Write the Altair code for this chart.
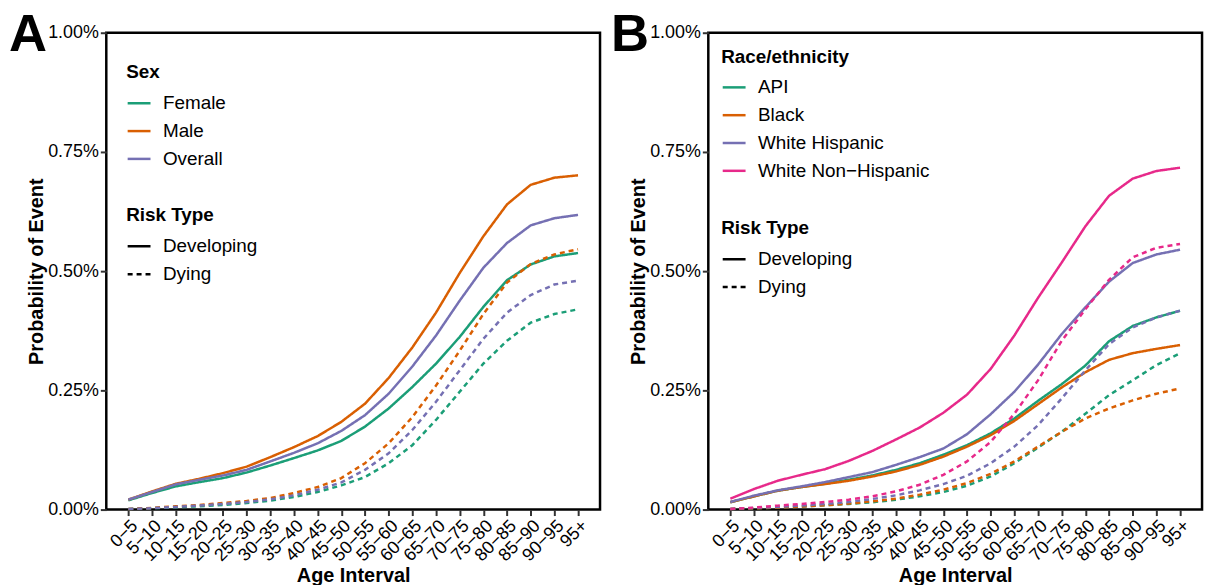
import altair as alt
import pandas as pd

# Age intervals shared by both panels
ages = ["0−5", "5−10", "10−15", "15−20", "20−25", "25−30", "30−35", "35−40",
        "40−45", "45−50", "50−55", "55−60", "60−65", "65−70", "70−75", "75−80",
        "80−85", "85−90", "90−95", "95+"]
risk_types = ["Developing", "Dying"]

# Panel A: probability (%) by sex
sex_groups = ["Female", "Male", "Overall"]
female_dev = [0.0194, 0.0347, 0.0486, 0.0576, 0.066, 0.0778, 0.0924, 0.108, 0.124, 0.144,
              0.174, 0.212, 0.257, 0.306, 0.362, 0.425, 0.481, 0.514, 0.531, 0.538]
male_dev = [0.0208, 0.038, 0.054, 0.0646, 0.0764, 0.090, 0.110, 0.131, 0.154, 0.184,
            0.222, 0.276, 0.340, 0.413, 0.496, 0.573, 0.640, 0.681, 0.696, 0.701]
overall_dev = [0.0208, 0.0368, 0.0528, 0.0625, 0.0715, 0.0833, 0.101, 0.119, 0.139, 0.165,
               0.198, 0.243, 0.300, 0.365, 0.438, 0.507, 0.559, 0.596, 0.611, 0.618]
female_die = [0.0014, 0.0028, 0.0049, 0.0069, 0.0097, 0.0139, 0.0188, 0.0264, 0.0368, 0.0507,
              0.0681, 0.0972, 0.135, 0.188, 0.247, 0.306, 0.354, 0.392, 0.410, 0.420]
male_die = [0.0014, 0.0035, 0.0069, 0.0097, 0.0139, 0.0181, 0.0243, 0.0347, 0.0472, 0.066,
            0.0972, 0.139, 0.194, 0.260, 0.333, 0.410, 0.476, 0.515, 0.535, 0.546]
overall_die = [0.0014, 0.0028, 0.0056, 0.0083, 0.0118, 0.016, 0.0215, 0.0299, 0.0417, 0.0569,
               0.0833, 0.118, 0.167, 0.226, 0.292, 0.358, 0.413, 0.450, 0.472, 0.480]

# Panel B: probability (%) by race/ethnicity
race_groups = ["API", "Black", "White Hispanic", "White Non−Hispanic"]
api_dev = [0.0153, 0.0278, 0.0396, 0.0472, 0.0542, 0.0625, 0.0715, 0.0833, 0.0972, 0.115,
           0.135, 0.160, 0.191, 0.228, 0.263, 0.302, 0.353, 0.385, 0.403, 0.417]
black_dev = [0.0153, 0.0278, 0.0396, 0.0472, 0.0535, 0.0604, 0.0694, 0.0799, 0.0938, 0.111,
             0.132, 0.156, 0.186, 0.221, 0.256, 0.288, 0.314, 0.328, 0.337, 0.345]
whisp_dev = [0.016, 0.0292, 0.0403, 0.0486, 0.0576, 0.0681, 0.0785, 0.0938, 0.110, 0.128,
             0.158, 0.200, 0.247, 0.304, 0.368, 0.424, 0.478, 0.517, 0.535, 0.545]
wnh_dev = [0.0229, 0.0431, 0.0604, 0.0729, 0.0847, 0.102, 0.123, 0.147, 0.172, 0.203,
           0.241, 0.295, 0.365, 0.444, 0.518, 0.594, 0.658, 0.694, 0.710, 0.717]
api_die = [0.0014, 0.0028, 0.0042, 0.0063, 0.009, 0.0118, 0.0153, 0.0208, 0.0278, 0.0368,
           0.050, 0.0694, 0.0972, 0.130, 0.163, 0.201, 0.240, 0.271, 0.303, 0.328]
black_die = [0.0014, 0.0028, 0.0042, 0.0063, 0.009, 0.0125, 0.0174, 0.0229, 0.0313, 0.0417,
             0.0556, 0.075, 0.101, 0.132, 0.163, 0.191, 0.212, 0.229, 0.243, 0.254]
whisp_die = [0.0014, 0.0035, 0.0056, 0.0083, 0.0118, 0.016, 0.0222, 0.0299, 0.0403, 0.0535,
             0.0708, 0.0972, 0.132, 0.177, 0.233, 0.292, 0.347, 0.382, 0.403, 0.417]
wnh_die = [0.0014, 0.0042, 0.0083, 0.0118, 0.016, 0.0208, 0.0278, 0.0382, 0.0521, 0.0729,
           0.101, 0.142, 0.201, 0.271, 0.354, 0.420, 0.482, 0.529, 0.549, 0.557]

sex_colors = ["#1B9E77", "#D95F02", "#7570B3"]
race_colors = ["#1B9E77", "#D95F02", "#7570B3", "#E7298A"]
panel_letters = ["A", "B"]

FONT = "Liberation Sans"


def long_table(series):
    rows = []
    for group, risk, values in series:
        for age, v in zip(ages, values):
            rows.append({"age": age, "group": group, "risk": risk, "value": v})
    return pd.DataFrame(rows)


sex_df = long_table([
    ("Female", "Developing", female_dev), ("Male", "Developing", male_dev),
    ("Overall", "Developing", overall_dev), ("Female", "Dying", female_die),
    ("Male", "Dying", male_die), ("Overall", "Dying", overall_die),
])
race_df = long_table([
    ("API", "Developing", api_dev), ("Black", "Developing", black_dev),
    ("White Hispanic", "Developing", whisp_dev), ("White Non−Hispanic", "Developing", wnh_dev),
    ("API", "Dying", api_die), ("Black", "Dying", black_die),
    ("White Hispanic", "Dying", whisp_die), ("White Non−Hispanic", "Dying", wnh_die),
])


def legend(title, x, y):
    return alt.Legend(
        title=title, orient="none", legendX=x, legendY=y, direction="vertical",
        titleFont=FONT, titleFontSize=19, titleFontWeight="bold", titleColor="black",
        titlePadding=8, labelFont=FONT, labelFontSize=19, labelColor="black",
        labelOffset=11, labelLimit=0, symbolType="stroke", symbolSize=529,
        symbolStrokeWidth=2.5, symbolStrokeColor="black", rowPadding=5, padding=0,
    )


def panel(df, groups, colors, color_title, lx, ly_color, ly_risk, letter):
    lines = alt.Chart(df).mark_line(strokeWidth=2.5, strokeCap="butt").encode(
        x=alt.X("age:O", sort=ages,
                scale=alt.Scale(type="point", padding=0.93),
                axis=alt.Axis(title="Age Interval", labelAngle=-45, labelFont=FONT,
                              labelFontSize=18, labelColor="black", labelPadding=1,
                              tickSize=6, tickWidth=2, tickColor="#333333", domain=False,
                              titleFont=FONT, titleFontSize=20, titleFontWeight="bold",
                              titleColor="black", titlePadding=1)),
        y=alt.Y("value:Q",
                scale=alt.Scale(domain=[0, 1], nice=False, zero=True),
                axis=alt.Axis(title="Probability of Event", values=[0, 0.25, 0.5, 0.75, 1.0],
                              labelExpr="format(datum.value, '.2f') + '%'",
                              labelFont=FONT, labelFontSize=18, labelColor="black",
                              labelPadding=2, tickSize=6, tickWidth=2, tickColor="#333333",
                              domain=False, grid=False,
                              titleFont=FONT, titleFontSize=20, titleFontWeight="bold",
                              titleColor="black", titlePadding=1)),
        color=alt.Color("group:N", scale=alt.Scale(domain=groups, range=colors),
                        legend=legend(color_title, lx, ly_color)),
        strokeDash=alt.StrokeDash("risk:N",
                                  scale=alt.Scale(domain=risk_types, range=[[1, 0], [5, 4]]),
                                  legend=legend("Risk Type", lx, ly_risk)),
    )
    tag = alt.Chart(pd.DataFrame({"t": [letter]})).mark_text(
        font=FONT, fontSize=53, fontWeight="bold", color="black",
        align="left", baseline="alphabetic",
    ).encode(text="t:N", x=alt.value(-98), y=alt.value(18))
    return alt.layer(lines, tag).properties(width=497, height=480)


left = panel(sex_df, sex_groups, sex_colors, "Sex", 20, 31, 175, panel_letters[0])
right = panel(race_df, race_groups, race_colors, "Race/ethnicity", 13, 15, 188, panel_letters[1])

chart = alt.hconcat(left, right, spacing=7).resolve_scale(
    color="independent", strokeDash="independent"
).resolve_legend(
    color="independent", strokeDash="independent"
).configure_view(
    stroke="black", strokeWidth=2.5
).properties(
    padding={"left": 7, "top": 5, "right": 4, "bottom": 0},
    background="white",
)

chart.save("out.html", embed_options={"renderer": "svg", "actions": False})
